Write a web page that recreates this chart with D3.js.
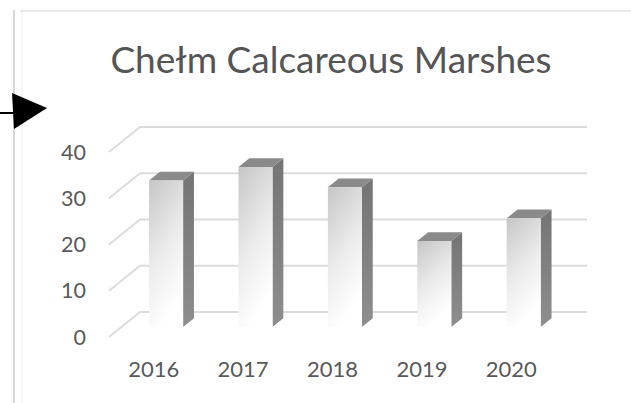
<!DOCTYPE html>
<html>
<head>
<meta charset="utf-8">
<script src="https://cdn.jsdelivr.net/npm/d3@7"></script>
<style>
  html, body { margin: 0; padding: 0; background: #ffffff; }
  svg { display: block; }
</style>
</head>
<body>
<svg id="chart" width="631" height="403"></svg>
<script>
// Data
const title = "Chełm Calcareous Marshes";
const years = ["2016", "2017", "2018", "2019", "2020"];
const values = [31.7, 34.6, 30.2, 18.6, 23.5];
const yTicks = [0, 10, 20, 30, 40];

const svg = d3.select("#chart");
const W = 631, H = 403;
const font = "Lato, 'Open Sans', sans-serif";

// Pseudo-3D projection: front plane + depth offset towards the back wall
const depthDX = 31, depthDY = -25;
const x = d3.scaleBand().domain(years).range([109, 556]).paddingInner(0).paddingOuter(0);
const y = d3.scaleLinear().domain([0, 40]).range([337, 152]);
const P = (px, v, d) => [px + d * depthDX, y(v) + d * depthDY];

// Outer frame of the chart object
svg.append("line").attr("x1", 14).attr("x2", 14).attr("y1", 10).attr("y2", H)
  .attr("stroke", "#c9c9c9").attr("stroke-width", 1.5);
svg.append("line").attr("x1", 22).attr("x2", 22).attr("y1", 12).attr("y2", H)
  .attr("stroke", "#f0f0f0").attr("stroke-width", 1);
svg.append("line").attr("x1", 20).attr("x2", W).attr("y1", 11).attr("y2", 11)
  .attr("stroke", "#e8e8e8").attr("stroke-width", 2);

// Pointer arrow on the left edge
svg.append("line").attr("x1", 0).attr("x2", 14).attr("y1", 113).attr("y2", 113)
  .attr("stroke", "#000").attr("stroke-width", 2);
svg.append("path").attr("d", "M12,93 L14,129 L47,108 Z").attr("fill", "#000");

// Title
svg.append("text").attr("x", 331).attr("y", 73).attr("text-anchor", "middle")
  .attr("font-family", font).attr("font-size", 37).attr("fill", "#555555")
  .text(title);

// Back wall gridlines and side-wall diagonals
const grid = svg.append("g");
yTicks.forEach(t => {
  const a = P(109, t, 0), b = P(109, t, 1), c = P(556, t, 1);
  grid.append("path")
    .attr("d", `M${a[0]},${a[1]} L${b[0]},${b[1]} L${c[0]},${c[1]}`)
    .attr("fill", "none").attr("stroke", "#dcdcdc").attr("stroke-width", 2);
});

// Y axis labels
svg.append("g").selectAll("text").data(yTicks).join("text")
  .attr("x", 86).attr("y", d => y(d)).attr("dy", "0.35em")
  .attr("text-anchor", "end").attr("font-family", font).attr("font-size", 21.5)
  .attr("fill", "#595959").text(d => d);

// Category labels
svg.append("g").selectAll("text").data(years).join("text")
  .attr("x", d => x(d) + x.bandwidth() / 2).attr("y", 377)
  .attr("text-anchor", "middle").attr("font-family", font).attr("font-size", 22)
  .attr("fill", "#595959").text(d => d);

// Gradients for the bar faces
const defs = svg.append("defs");
const gFront = defs.append("linearGradient").attr("id", "front")
  .attr("x1", 0).attr("y1", 0).attr("x2", 0.35).attr("y2", 1);
gFront.append("stop").attr("offset", 0).attr("stop-color", "#c6c6c6");
gFront.append("stop").attr("offset", 0.55).attr("stop-color", "#ebebeb");
gFront.append("stop").attr("offset", 1).attr("stop-color", "#ffffff");
const gSide = defs.append("linearGradient").attr("id", "side")
  .attr("x1", 0).attr("y1", 0).attr("x2", 0).attr("y2", 1);
gSide.append("stop").attr("offset", 0).attr("stop-color", "#747474");
gSide.append("stop").attr("offset", 1).attr("stop-color", "#8e8e8e");

// Bars
const dFront = 0.4, dBack = 0.75, half = 17;
const poly = pts => "M" + pts.map(p => p.join(",")).join(" L") + " Z";
const bars = svg.append("g").selectAll("g").data(years.map((k, i) => ({ k, v: values[i] }))).join("g");
bars.each(function (d) {
  const g = d3.select(this);
  const c = x(d.k) + x.bandwidth() / 2;
  const L = c - half, R = c + half;
  // right side face
  g.append("path").attr("d", poly([P(R, 0, dFront), P(R, 0, dBack), P(R, d.v, dBack), P(R, d.v, dFront)]))
    .attr("fill", "url(#side)");
  // top face
  g.append("path").attr("d", poly([P(L, d.v, dFront), P(R, d.v, dFront), P(R, d.v, dBack), P(L, d.v, dBack)]))
    .attr("fill", "#8a8a8a");
  // front face
  g.append("path").attr("d", poly([P(L, 0, dFront), P(R, 0, dFront), P(R, d.v, dFront), P(L, d.v, dFront)]))
    .attr("fill", "url(#front)");
});
</script>
</body>
</html>
